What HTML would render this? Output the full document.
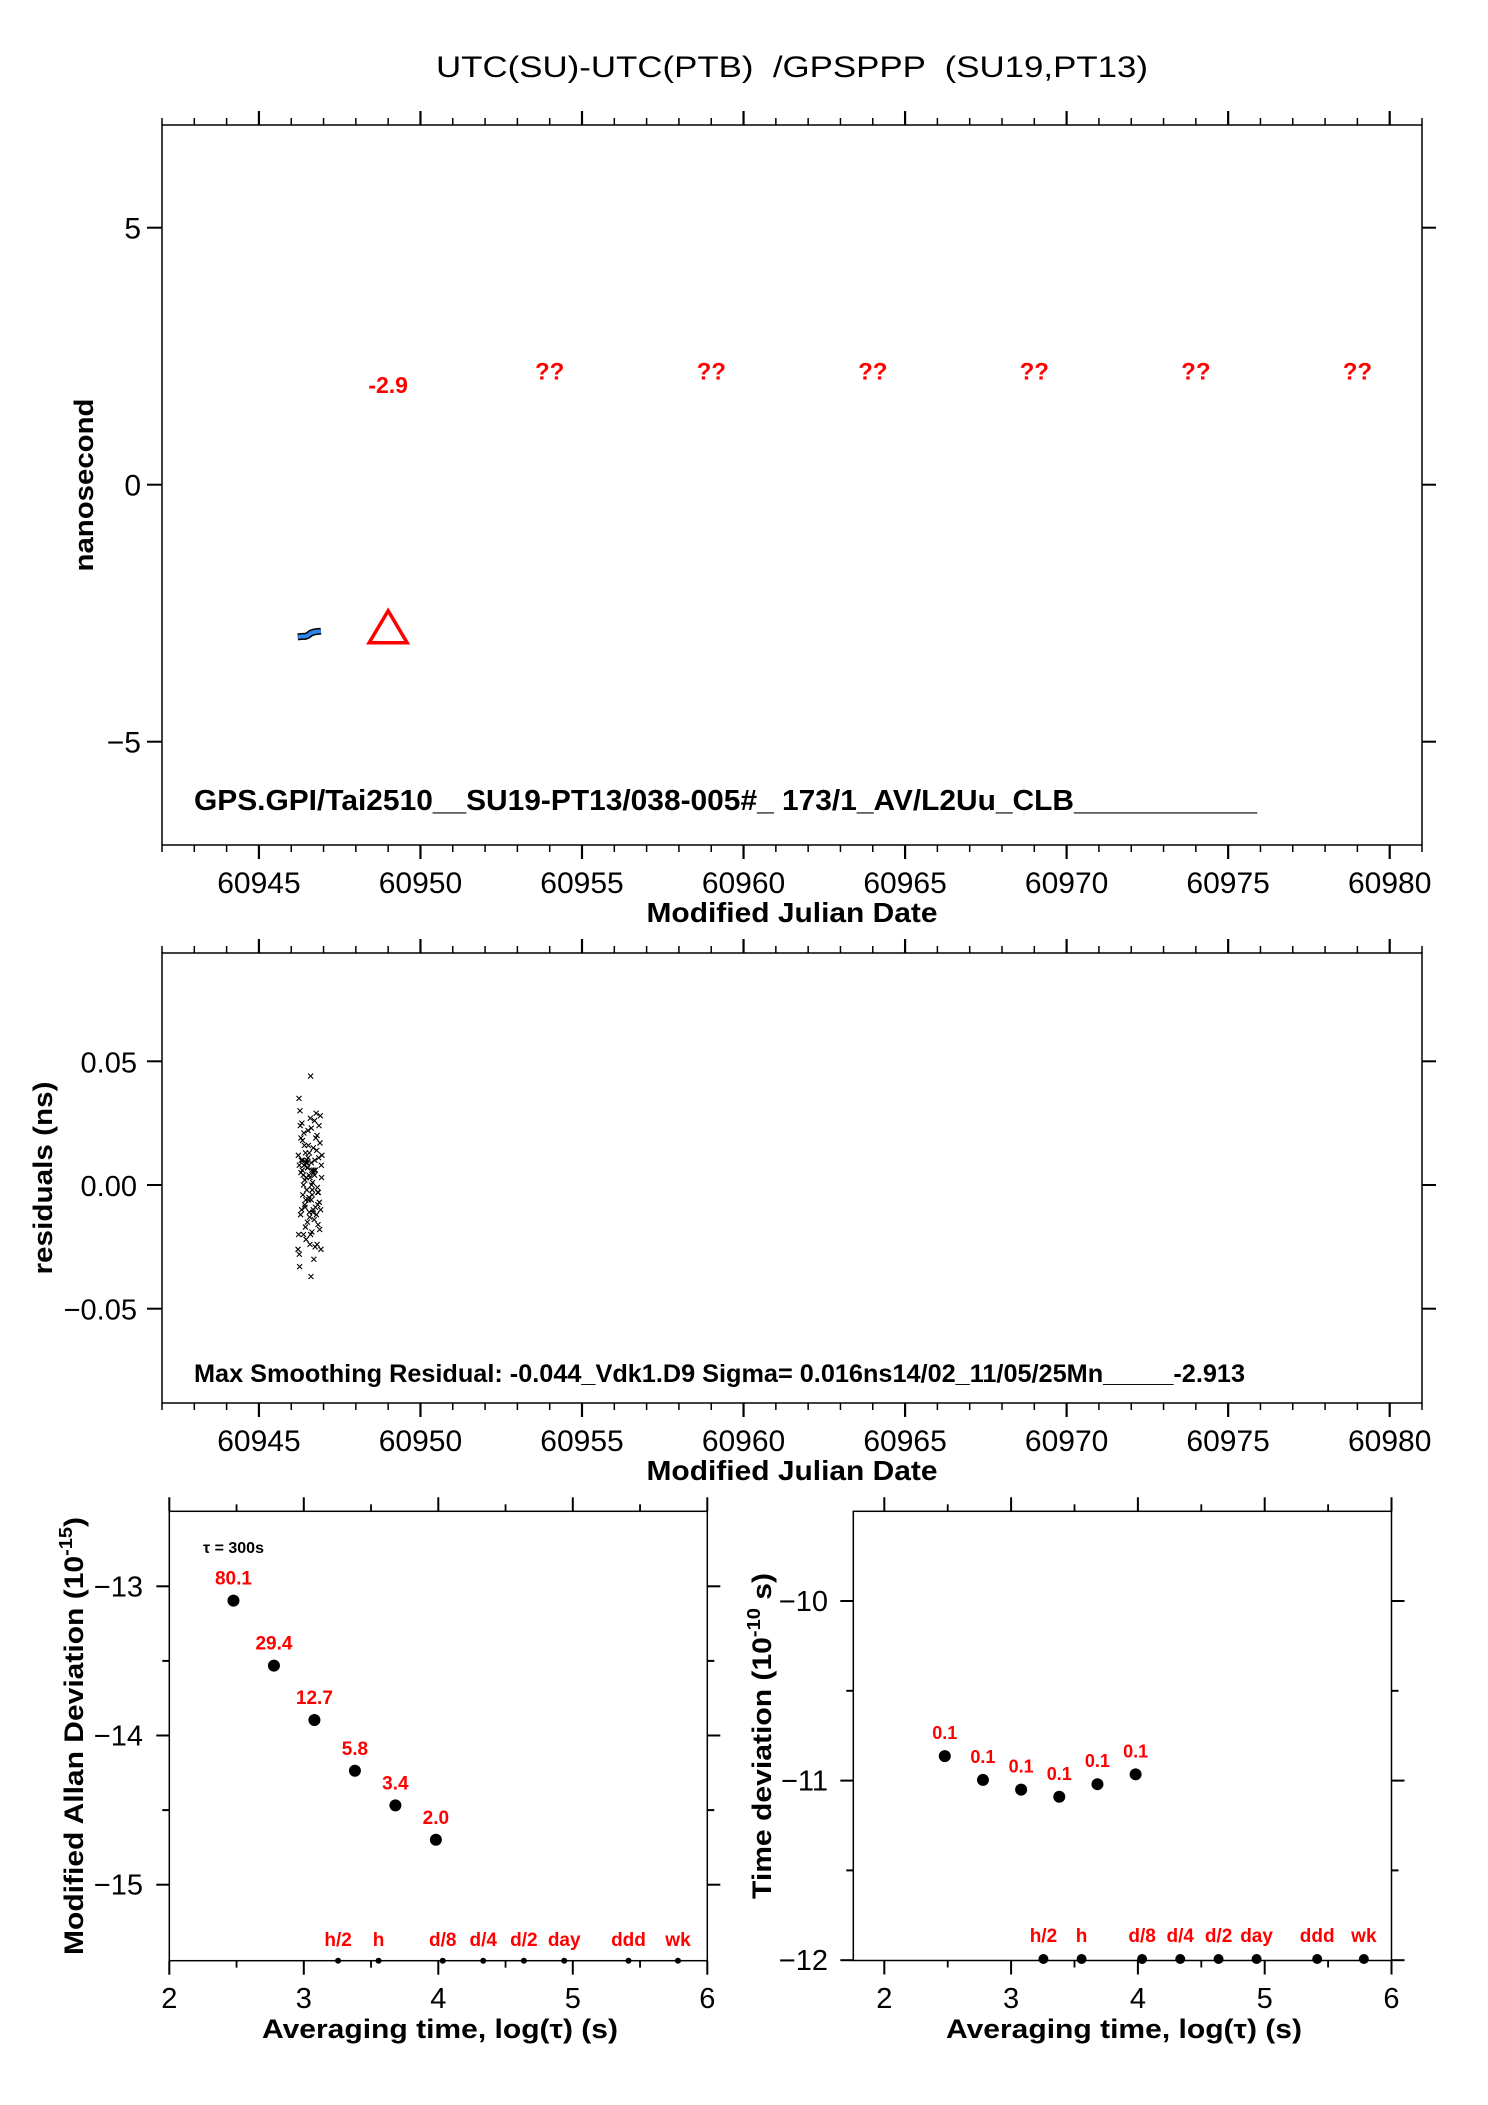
<!DOCTYPE html>
<html><head><meta charset="utf-8">
<style>
html,body{margin:0;padding:0;background:#fff;}
svg{display:block;font-family:"Liberation Sans",Arial,sans-serif;}
</style></head>
<body>
<svg id="root" xmlns="http://www.w3.org/2000/svg" width="1488" height="2105" viewBox="0 0 1488 2105">
<rect x="0" y="0" width="1488" height="2105" fill="#fff"/>
<text x="792" y="77" font-size="30" text-anchor="middle" textLength="712" lengthAdjust="spacingAndGlyphs" xml:space="preserve">UTC(SU)-UTC(PTB)  /GPSPPP  (SU19,PT13)</text>
</svg>
<script>
// ---------- data ----------
const mjdMajorTicks = [60945,60950,60955,60960,60965,60970,60975,60980];
const offsetMjd = [60946.20,60946.28,60946.36,60946.44,60946.52,60946.60,60946.68,60946.76,60946.84,60946.92];
const offsetNs  = [-2.96,-2.955,-2.95,-2.95,-2.93,-2.89,-2.87,-2.86,-2.855,-2.85];
const avgMjd = [60949];
const avgNs = [-2.9];
const avgLabels = ['-2.9'];
const unknownMjd = [60954,60959,60964,60969,60974,60979];
const nsTicks = [5,0,-5];
const residTicks = [0.05,0.00,-0.05];
const residTickLabels = ['0.05','0.00','\u22120.05'];
const residMjd = [60946.22,60946.25,60946.28,60946.30,60946.32,60946.35,60946.38,60946.40,60946.42,60946.45,
 60946.48,60946.50,60946.52,60946.55,60946.58,60946.60,60946.62,60946.65,60946.68,60946.70,
 60946.72,60946.75,60946.78,60946.80,60946.82,60946.85,60946.88,60946.90,60946.92,60946.94,
 60946.23,60946.27,60946.31,60946.36,60946.41,60946.46,60946.51,60946.56,60946.61,60946.66,
 60946.71,60946.76,60946.81,60946.86,60946.91,60946.24,60946.29,60946.34,60946.39,60946.44,
 60946.49,60946.54,60946.59,60946.64,60946.69,60946.74,60946.79,60946.84,60946.89,60946.93,
 60946.26,60946.33,60946.43,60946.53,60946.63,60946.73,60946.83,60946.87,60946.37,60946.57,
 60946.60,60946.30,60946.62,60946.25,60946.80,60946.47,60946.67,60946.77,60946.21,60946.95,
 60946.40,60946.45,60946.50,60946.55,60946.35,60946.65,60946.70,60946.75,60946.42,60946.58,
 60946.48,60946.52,60946.62,60946.68,60946.38,60946.72,60946.44,60946.56,60946.64,60946.82];
const residNs = [0.012,-0.028,0.024,0.005,-0.010,0.018,-0.020,0.008,0.002,-0.006,
 0.010,-0.015,0.022,0.004,-0.024,0.044,0.009,-0.002,0.015,-0.030,
 0.026,0.006,-0.012,0.020,-0.008,0.011,-0.018,0.028,-0.026,0.003,
 -0.020,0.030,0.010,-0.004,0.016,-0.022,0.007,0.013,-0.037,0.001,
 -0.014,0.019,-0.001,0.024,-0.010,0.035,-0.012,0.006,0.021,-0.017,
 0.009,-0.006,0.027,-0.019,0.005,-0.025,0.014,-0.003,0.017,0.008,
 -0.033,0.025,-0.009,0.016,0.000,0.010,-0.016,-0.007,0.004,-0.013,
 -0.020,0.019,0.023,0.008,-0.024,0.003,-0.011,0.029,-0.026,0.012,
 0.008,0.009,0.007,-0.005,0.010,-0.004,0.006,-0.009,-0.008,0.003,
 -0.002,0.011,-0.006,-0.010,0.000,0.004,0.013,-0.011,0.006,-0.003];
const adevLogTau = [2.477,2.778,3.079,3.380,3.681,3.982];
const adevVal = [80.1,29.4,12.7,5.8,3.4,2.0];
const tdevLogTau = [2.477,2.778,3.079,3.380,3.681,3.982];
const tdevLog = [-10.864,-10.996,-11.05,-11.09,-11.02,-10.965];
const tdevLabels = ['0.1','0.1','0.1','0.1','0.1','0.1'];
const markerNames = ['h/2','h','d/8','d/4','d/2','day','ddd','wk'];
const markerLogTau = [3.255,3.556,4.033,4.334,4.636,4.936,5.414,5.782];
const logTauTicks = [2,3,4,5,6];
const adevTicks = [-13,-14,-15];
const tdevTicks = [-10,-11,-12];

// ---------- helpers ----------
const NS='http://www.w3.org/2000/svg';
const root=document.getElementById('root');
function mk(tag,attrs,parent){const e=document.createElementNS(NS,tag);for(const k in attrs)e.setAttribute(k,attrs[k]);(parent||root).appendChild(e);return e;}
function line(g,x1,y1,x2,y2,w,c){return mk('line',{x1:x1,y1:y1,x2:x2,y2:y2,stroke:c||'#000','stroke-width':w||1.5},g);}
function txt(g,x,y,s,fs,opts){const e=mk('text',Object.assign({x:x,y:y,'font-size':fs},opts||{}),g);e.textContent=s;return e;}

// ---------- scales ----------
const topX=m=>162+(m-60942)*(1260/39);
const topY=v=>484.7-v*51.4;
const resY=v=>1185-v*2474;
const adX=l=>169.3+(l-2)*134.5;
const adY=v=>1586.3+(-13-v)*149.2;
const tdX=l=>884.3+(l-2)*126.8;
const tdY=v=>1601+(-10-v)*179.6;

function mjdFrame(g,top,bot,name){
  const fr=mk('rect',{x:162,y:top,width:1260,height:bot-top,fill:'none',stroke:'#000','stroke-width':1.5},g);
  
  
  for(let d=60942;d<=60981;d++){
    const x=topX(d);const maj=(d%5===0);const L=maj?14:7;
    line(g,x,top,x,top-L,maj?2.2:1.5);
    line(g,x,bot,x,bot+L,maj?2.2:1.5);
  }
  mjdMajorTicks.forEach(m=>{
    const t=txt(g,topX(m),0,String(m),30,{'text-anchor':'middle'});
    t.setAttribute('y',bot+48);
    
    
  });
  const xt=txt(g,792,bot+77,'Modified Julian Date',28,{'text-anchor':'middle','font-weight':'bold',textLength:291,lengthAdjust:'spacingAndGlyphs'});
  
  
}

// ---------- top plot ----------
const gTop=mk('g',{});


mjdFrame(gTop,125,845,'offset-plot');
nsTicks.forEach(v=>{
  const y=topY(v);
  line(gTop,147,y,162,y,2);line(gTop,1422,y,1436,y,2);
  const t=txt(gTop,141,y+11,v<0?'\u2212'+Math.abs(v):String(v),30,{'text-anchor':'end'});
  
  
});
const yt1=txt(gTop,0,0,'nanosecond',27,{'font-weight':'bold','text-anchor':'middle',transform:'translate(93,485) rotate(-90)',textLength:173,lengthAdjust:'spacingAndGlyphs'});


let pts=offsetMjd.map((m,i)=>topX(m)+','+topY(offsetNs[i])).join(' ');
const ol=mk('polyline',{points:pts,fill:'none',stroke:'#000','stroke-width':7,'stroke-linecap':'butt'},gTop);


const bl=mk('polyline',{points:pts,fill:'none',stroke:'#2f86e8','stroke-width':4,'stroke-linecap':'butt'},gTop);


avgMjd.forEach((m,i)=>{
  const x=topX(m),y=topY(avgNs[i]);
  const tri=mk('polygon',{points:(x)+','+(y-23)+' '+(x-19)+','+(y+9)+' '+(x+19)+','+(y+9),fill:'none',stroke:'#f00','stroke-width':3.5},gTop);
  
  
  const t=txt(gTop,x,topY(1.78),avgLabels[i],23,{'text-anchor':'middle','font-weight':'bold',fill:'#f00'});
  
  
});
unknownMjd.forEach(m=>{
  const t=txt(gTop,topX(m),topY(2.05),'??',24,{'text-anchor':'middle','font-weight':'bold',fill:'#f00'});
  
  
});
const gps=txt(gTop,194,810,'GPS.GPI/Tai2510__SU19-PT13/038-005#_  173/1_AV/L2Uu_CLB___________',29,{'font-weight':'bold',textLength:1063,lengthAdjust:'spacingAndGlyphs','xml:space':'preserve'});



// ---------- residual plot ----------
const gRes=mk('g',{});


mjdFrame(gRes,953,1403,'residual-plot');
residTicks.forEach((v,i)=>{
  const y=resY(v);
  line(gRes,147,y,162,y,2);line(gRes,1422,y,1436,y,2);
  const t=txt(gRes,137,y+11,residTickLabels[i],29,{'text-anchor':'end'});
  
  
});
const yt2=txt(gRes,0,0,'residuals (ns)',27,{'font-weight':'bold','text-anchor':'middle',transform:'translate(52,1178) rotate(-90)',textLength:193,lengthAdjust:'spacingAndGlyphs'});


residMjd.forEach((m,i)=>{
  const x=topX(m),y=resY(residNs[i]);
  const p=mk('path',{d:'M'+(x-2.5)+' '+(y-2.5)+'L'+(x+2.5)+' '+(y+2.5)+'M'+(x-2.5)+' '+(y+2.5)+'L'+(x+2.5)+' '+(y-2.5),stroke:'#000','stroke-width':1.1,fill:'none'},gRes);
  
  
});
const ms=txt(gRes,194,1382,'Max Smoothing Residual: -0.044_Vdk1.D9  Sigma= 0.016ns14/02_11/05/25Mn_____-2.913',25,{'font-weight':'bold',textLength:1051,lengthAdjust:'spacingAndGlyphs','xml:space':'preserve'});



// ---------- log-tau plots ----------
function tauFrame(g,X,Y,x0,x1,y0,y1,majors,minors,labelEnd,name,titleX){
  const fr=mk('rect',{x:x0,y:y0,width:x1-x0,height:y1-y0,fill:'none',stroke:'#000','stroke-width':1.5},g);
  
  
  for(let l=2;l<=6.001;l+=0.5){
    const x=X(l);const maj=Math.abs(l-Math.round(l))<0.01;const L=maj?14:7;
    line(g,x,y0,x,y0-L,maj?2:1.8);line(g,x,y1,x,y1+L,maj?2:1.8);
  }
  logTauTicks.forEach(l=>{
    const t=txt(g,X(l),2008,String(l),29,{'text-anchor':'middle'});
    
    
  });
  majors.forEach(v=>{
    const y=Y(v);line(g,x0-13,y,x0,y,2);line(g,x1,y,x1+13,y,2);
    const t=txt(g,labelEnd,y+10,'\u2212'+Math.abs(v),29,{'text-anchor':'end'});
    
    
  });
  minors.forEach(v=>{const y=Y(v);line(g,x0-7,y,x0,y,2);line(g,x1,y,x1+7,y,2);});
  const xt=mk('text',{x:titleX,y:2038,'font-size':27,'font-weight':'bold','text-anchor':'middle',textLength:356,lengthAdjust:'spacingAndGlyphs'},g);
  xt.textContent='Averaging time, log(\u03c4) (s)';
  
  
}

// Allan deviation
const gAd=mk('g',{});


tauFrame(gAd,adX,adY,169.3,707.3,1511.3,1960.7,adevTicks,[-13.5,-14.5],143,'adev-plot',440);
const ya=mk('text',{'font-size':27,'font-weight':'bold','text-anchor':'middle',transform:'translate(83,1736) rotate(-90)',textLength:438,lengthAdjust:'spacingAndGlyphs'},gAd);
ya.innerHTML='Modified Allan Deviation (10<tspan font-size="18" dy="-11">-15</tspan><tspan dy="11">)</tspan>';


const tau=txt(gAd,203,1553,'\u03c4 = 300s',16,{'font-weight':'bold'});


adevLogTau.forEach((l,i)=>{
  const x=adX(l),y=adY(Math.log10(adevVal[i])-15);
  const c=mk('circle',{cx:x,cy:y,r:6,fill:'#000'},gAd);
  
  
  const t=txt(gAd,x,y-16,adevVal[i].toFixed(1),19,{'text-anchor':'middle','font-weight':'bold',fill:'#f00'});
  
  
});
markerLogTau.forEach((l,i)=>{
  const x=adX(l);
  const c=mk('circle',{cx:x,cy:1960.7,r:3,fill:'#000'},gAd);
  
  
  const t=txt(gAd,x,1946,markerNames[i],19,{'text-anchor':'middle','font-weight':'bold',fill:'#f00'});
  
  
});

// Time deviation
const gTd=mk('g',{});


tauFrame(gTd,tdX,tdY,853.3,1391.5,1511.3,1960.5,tdevTicks,[-10.5,-11.5],828,'tdev-plot',1124);
const yd=mk('text',{'font-size':27,'font-weight':'bold','text-anchor':'middle',transform:'translate(771,1736) rotate(-90)',textLength:326,lengthAdjust:'spacingAndGlyphs'},gTd);
yd.innerHTML='Time deviation (10<tspan font-size="18" dy="-11">-10</tspan><tspan dy="11"> s)</tspan>';


tdevLogTau.forEach((l,i)=>{
  const x=tdX(l),y=tdY(tdevLog[i]);
  const c=mk('circle',{cx:x,cy:y,r:6,fill:'#000'},gTd);
  
  
  const t=txt(gTd,x,y-17,tdevLabels[i],18,{'text-anchor':'middle','font-weight':'bold',fill:'#f00'});
  
  
});
markerLogTau.forEach((l,i)=>{
  const x=tdX(l);
  const c=mk('circle',{cx:x,cy:1959,r:5,fill:'#000'},gTd);
  
  
  const t=txt(gTd,x,1942,markerNames[i],19,{'text-anchor':'middle','font-weight':'bold',fill:'#f00'});
  
  
});
</script>
</body></html>
